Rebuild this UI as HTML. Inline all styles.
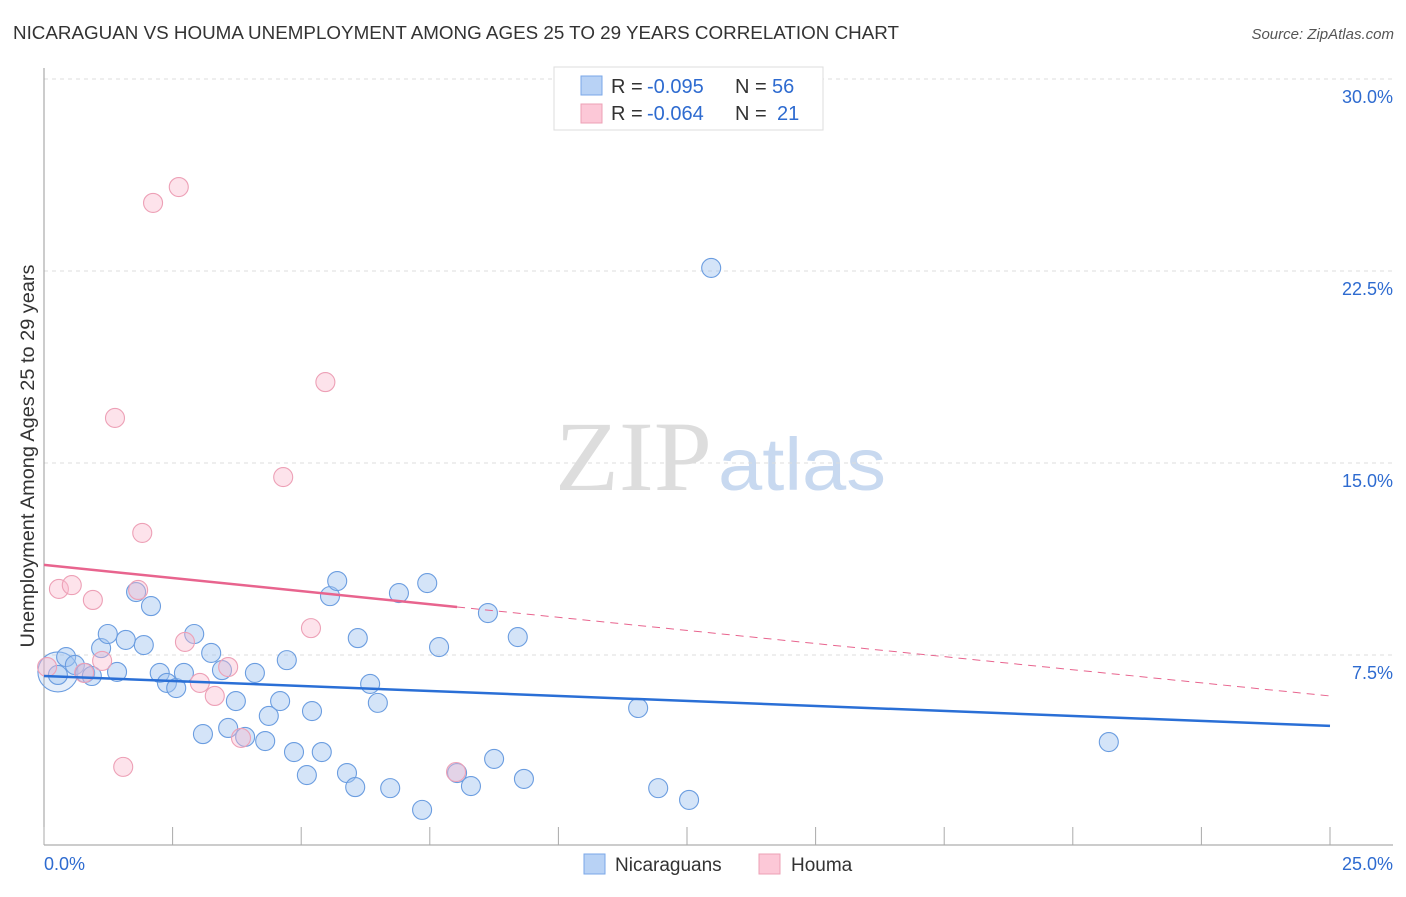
<!DOCTYPE html>
<html><head><meta charset="utf-8"><style>
body{margin:0;background:#fff;font-family:"Liberation Sans",sans-serif}
</style></head><body>
<svg id="chart" width="1406" height="892" xmlns="http://www.w3.org/2000/svg" font-family="Liberation Sans, sans-serif">
<text x="13" y="39" font-size="18" fill="#333" textLength="886" lengthAdjust="spacingAndGlyphs">NICARAGUAN VS HOUMA UNEMPLOYMENT AMONG AGES 25 TO 29 YEARS CORRELATION CHART</text>
<text x="1394" y="39" font-size="15" fill="#555" text-anchor="end" font-style="italic">Source: ZipAtlas.com</text>
<g>
<text x="555" y="490" font-size="100" fill="#ddd" font-family="Liberation Serif, serif" textLength="157" lengthAdjust="spacingAndGlyphs">ZIP</text>
<text x="718" y="490" font-size="74" fill="#c8d9f0" textLength="168" lengthAdjust="spacingAndGlyphs">atlas</text>
</g>
<g id="grid"></g><g id="axes"></g><g id="pts"></g><g id="trend"></g>
<text transform="translate(34,456) rotate(-90)" font-size="19" fill="#333" text-anchor="middle" textLength="383" lengthAdjust="spacingAndGlyphs">Unemployment Among Ages 25 to 29 years</text>
<g>
<rect x="554" y="67" width="269" height="63" fill="#fff" stroke="#ddd"/>
<rect x="581" y="76" width="21" height="19" fill="#b8d2f5" stroke="#7aa7e8"/>
<rect x="581" y="104" width="21" height="19" fill="#fcc8d7" stroke="#eda0b6"/>
<text x="611" y="93" font-size="20" fill="#333">R =</text>
<text x="647" y="93" font-size="20" fill="#2e6bd0">-0.095</text>
<text x="735" y="93" font-size="20" fill="#333">N =</text>
<text x="772" y="93" font-size="20" fill="#2e6bd0">56</text>
<text x="611" y="120" font-size="20" fill="#333">R =</text>
<text x="647" y="120" font-size="20" fill="#2e6bd0">-0.064</text>
<text x="735" y="120" font-size="20" fill="#333">N =</text>
<text x="777" y="120" font-size="20" fill="#2e6bd0">21</text>
</g>
<g>
<rect x="584" y="854" width="21" height="20" fill="#b8d2f5" stroke="#7aa7e8"/>
<text x="615" y="871" font-size="19" fill="#333">Nicaraguans</text>
<rect x="759" y="854" width="21" height="20" fill="#fcc8d7" stroke="#eda0b6"/>
<text x="791" y="871" font-size="19" fill="#333">Houma</text>
</g>
</svg>
<script>
const blueX=[0.27,0.43,0.60,0.27,0.80,0.93,1.11,1.24,1.42,1.59,1.79,1.94,2.08,2.25,2.39,2.57,2.72,2.92,3.09,3.25,3.46,3.58,3.73,3.91,4.10,4.30,4.37,4.59,4.72,4.86,5.11,5.21,5.40,5.56,5.70,5.89,6.05,6.10,6.34,6.49,6.73,6.90,7.35,7.45,7.68,8.03,8.30,8.63,8.75,9.21,9.33,11.55,11.94,12.54,12.97,20.70];
const blueY=[6.84,7.42,7.11,6.72,6.80,6.68,7.77,8.32,6.84,8.09,9.96,7.89,9.41,6.80,6.41,6.21,6.80,8.32,4.41,7.58,6.91,4.65,5.70,4.30,6.80,4.14,5.12,5.70,7.30,3.71,2.81,5.31,3.71,9.80,10.39,2.89,2.34,8.16,6.37,5.63,2.30,9.92,1.45,10.31,7.81,2.89,2.38,9.14,3.44,8.20,2.66,5.43,2.30,1.84,22.62,4.10];
const pinkX=[0.06,0.29,0.54,0.78,0.95,1.13,1.38,1.54,1.83,1.91,2.12,2.62,2.74,3.03,3.32,3.58,3.83,4.65,5.19,5.47,8.01];
const pinkY=[7.03,10.08,10.23,6.80,9.65,7.27,16.76,3.13,10.04,12.27,25.16,25.78,8.01,6.41,5.90,7.03,4.26,14.45,8.55,18.16,2.93];
const yTicks=[7.5,15,22.5,30];
const xTicks=[0,2.5,5,7.5,10,12.5,15,17.5,20,22.5,25];
const blueTrend=[6.68,4.73];
const pinkTrend=[11.02,5.90];
const pinkSolidEnd=8.03;
const NS="http://www.w3.org/2000/svg";
const X=v=>44+v/25*1286, Y=v=>847-v*25.6;
function mk(t,a,p){const e=document.createElementNS(NS,t);for(const k in a)e.setAttribute(k,a[k]);p.appendChild(e);return e;}
const grid=document.getElementById('grid'),axes=document.getElementById('axes'),pts=document.getElementById('pts'),tr=document.getElementById('trend');
yTicks.forEach(v=>{
 const l=mk('line',{x1:44,x2:1393,y1:Y(v),y2:Y(v),stroke:'#ddd','stroke-dasharray':'4,4'},grid);
 
 
 const t=mk('text',{x:1393,y:Y(v)+24,'font-size':18,fill:'#2e6bd0','text-anchor':'end'},grid);
 t.textContent=v.toFixed(1)+'%';
 
 
});
const ya=mk('line',{x1:44,x2:44,y1:68,y2:845,stroke:'#999'},axes);


const xa=mk('line',{x1:44,x2:1393,y1:845,y2:845,stroke:'#999'},axes);


xTicks.forEach(v=>{
 const l=mk('line',{x1:X(v),x2:X(v),y1:827,y2:845,stroke:'#aaa'},axes);
 
 
});
[[0,'start','0.0%'],[25,'end','25.0%']].forEach(([v,a,s])=>{
 const t=mk('text',{x:v==0?44:1393,y:870,'font-size':18,fill:'#2e6bd0','text-anchor':a},axes);
 t.textContent=s;
 
 
});
blueX.forEach((x,i)=>{
 const c=mk('circle',{cx:X(x),cy:Y(blueY[i]),r:i==0?20:9.5,fill:i==0?'rgba(170,200,240,0.3)':'rgba(160,195,240,0.45)',stroke:'#6b9de0','stroke-width':1.1},pts);
 
 
});
pinkX.forEach((x,i)=>{
 const c=mk('circle',{cx:X(x),cy:Y(pinkY[i]),r:9.5,fill:'rgba(250,185,205,0.4)',stroke:'#eda0b6','stroke-width':1.1},pts);
 
 
});
const bt=mk('line',{x1:X(0),y1:Y(blueTrend[0]),x2:X(25),y2:Y(blueTrend[1]),stroke:'#2a6fd6','stroke-width':2.5},tr);


const pAt=x=>pinkTrend[0]+(pinkTrend[1]-pinkTrend[0])*x/25;
const ps=mk('line',{x1:X(0),y1:Y(pinkTrend[0]),x2:X(pinkSolidEnd),y2:Y(pAt(pinkSolidEnd)),stroke:'#e8648e','stroke-width':2.5},tr);


const pd=mk('line',{x1:X(pinkSolidEnd),y1:Y(pAt(pinkSolidEnd)),x2:X(25),y2:Y(pinkTrend[1]),stroke:'#e8648e','stroke-width':1,'stroke-dasharray':'8,6'},tr);


</script>
</body></html>
